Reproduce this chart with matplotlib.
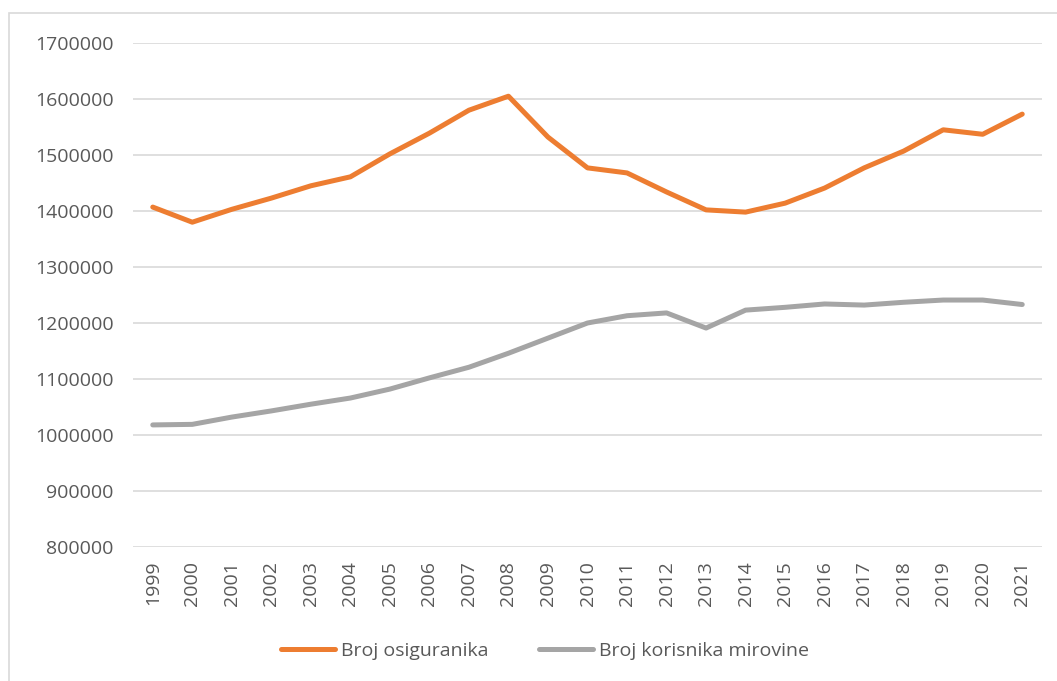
import matplotlib.pyplot as plt
from matplotlib.patches import Rectangle

# ---------------------------------------------------------------------------
# Data
# ---------------------------------------------------------------------------
years = [str(y) for y in range(1999, 2022)]
osiguranici = [1407000, 1380000, 1403000, 1423000, 1445000, 1461000, 1502000,
               1539000, 1580000, 1605000, 1532000, 1477000, 1468000, 1434000,
               1402000, 1398000, 1414000, 1441000, 1477000, 1507000, 1545000,
               1537000, 1573000]
korisnici = [1018000, 1019000, 1032000, 1043000, 1055000, 1066000, 1082000,
             1102000, 1121000, 1146000, 1173000, 1200000, 1213000, 1218000,
             1191000, 1223000, 1228000, 1234000, 1232000, 1237000, 1241000,
             1241000, 1233000]
y_ticks = list(range(800000, 1700001, 100000))

ORANGE = "#ED7D31"
GREY = "#A5A5A5"
TEXT = "#595959"

plt.rcParams.update({
    "font.family": ["Open Sans", "DejaVu Sans"],
    "font.size": 14,
})

W, H = 1057, 681
fig = plt.figure(figsize=(W / 100, H / 100), dpi=100)
fig.patches.append(Rectangle((9 / W, -0.1), 1.2, 1 - 13 / H + 0.1,
                             transform=fig.transFigure, fill=False,
                             edgecolor="#D9D9D9", linewidth=1.2))

ax = fig.add_axes([133 / W, 1 - 547 / H, (1042 - 133) / W, (547 - 43) / H])
x = range(len(years))
ax.plot(x, osiguranici, color=ORANGE, linewidth=3.6,
        solid_capstyle="round", solid_joinstyle="round", label="Broj osiguranika")
ax.plot(x, korisnici, color=GREY, linewidth=3.6,
        solid_capstyle="round", solid_joinstyle="round", label="Broj korisnika mirovine")

ax.set_xlim(-0.5, len(years) - 0.5)
ax.set_ylim(800000, 1700000)
ax.set_yticks(y_ticks)
ax.set_yticklabels([str(v) for v in y_ticks], color=TEXT)
ax.set_xticks(list(x))
ax.set_xticklabels(years, rotation=90, color=TEXT)
ax.tick_params(length=0)
ax.tick_params(axis="y", pad=14)
ax.tick_params(axis="x", pad=10)
ax.grid(axis="y", color="#D9D9D9", linewidth=1.2)
ax.set_axisbelow(True)
for s in ax.spines.values():
    s.set_visible(False)

fig.legend(loc="center", bbox_to_anchor=(545 / W, 1 - 651 / H), ncol=2,
           frameon=False, handlelength=2.8, columnspacing=2.6,
           handletextpad=0.3, labelcolor=TEXT)

fig.savefig("out.png", dpi=100)
